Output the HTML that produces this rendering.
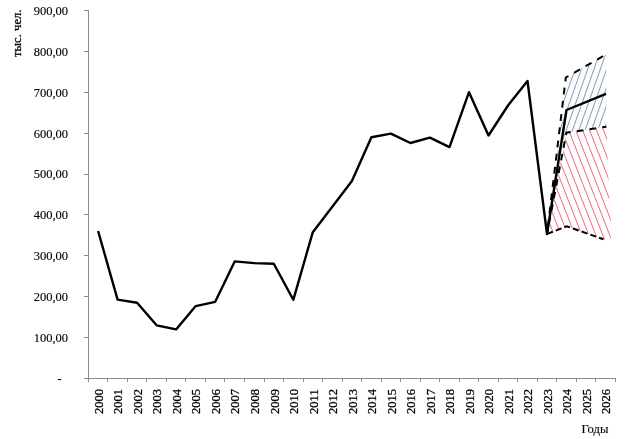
<!DOCTYPE html>
<html><head><meta charset="utf-8"><title>Chart</title>
<style>
html,body{margin:0;padding:0;background:#fff;}
body{width:625px;height:439px;overflow:hidden;position:relative;font-family:"Liberation Serif",serif;}
svg{position:absolute;left:0;top:0;display:block;}
svg text{font-family:"Liberation Serif",serif;font-size:12.5px;fill:#000;}
.rot{stroke:#000;stroke-width:0.28px;}
.yl{stroke:#000;stroke-width:0.12px;}
</style></head><body>
<svg width="625" height="439" viewBox="0 0 625 439">
<defs>
<clipPath id="cb"><polygon points="547.0,234.0 565.8,77.5 604.2,55.5 606.2,54.4 606.2,126.7 606.4,126.7 566.4,132.7 547.0,234.0"/></clipPath>
<clipPath id="cr"><polygon points="547.0,234.0 566.4,132.7 606.4,126.7 606.6,126.7 609.0,197.0 611.2,225.0 610.6,241.5 603.5,239.3 566.9,226.3 547.0,234.0"/></clipPath>
</defs>
<rect width="625" height="439" fill="#fff"/>
<polygon points="547.0,234.0 565.8,77.5 604.2,55.5 606.2,54.4 606.2,126.7 606.4,126.7 566.4,132.7 547.0,234.0" fill="#fbfcfe"/>
<polygon points="547.0,234.0 566.4,132.7 606.4,126.7 606.6,126.7 609.0,197.0 611.2,225.0 610.6,241.5 603.5,239.3 566.9,226.3 547.0,234.0" fill="#fffdfd"/>
<g clip-path="url(#cb)" stroke="#5c6b90" stroke-width="0.7" fill="none">
<line x1="522.12" y1="40" x2="448.18" y2="250"/>
<line x1="528.44" y1="40" x2="454.50" y2="250"/>
<line x1="534.76" y1="40" x2="460.82" y2="250"/>
<line x1="541.08" y1="40" x2="467.14" y2="250"/>
<line x1="547.40" y1="40" x2="473.46" y2="250"/>
<line x1="553.72" y1="40" x2="479.78" y2="250"/>
<line x1="560.04" y1="40" x2="486.10" y2="250"/>
<line x1="566.36" y1="40" x2="492.42" y2="250"/>
<line x1="572.68" y1="40" x2="498.74" y2="250"/>
<line x1="579.00" y1="40" x2="505.06" y2="250"/>
<line x1="585.32" y1="40" x2="511.38" y2="250"/>
<line x1="591.64" y1="40" x2="517.70" y2="250"/>
<line x1="597.96" y1="40" x2="524.02" y2="250"/>
<line x1="604.28" y1="40" x2="530.34" y2="250"/>
<line x1="610.60" y1="40" x2="536.66" y2="250"/>
<line x1="616.92" y1="40" x2="542.98" y2="250"/>
<line x1="623.24" y1="40" x2="549.30" y2="250"/>
<line x1="629.56" y1="40" x2="555.62" y2="250"/>
<line x1="635.88" y1="40" x2="561.94" y2="250"/>
<line x1="642.20" y1="40" x2="568.26" y2="250"/>
</g>
<g clip-path="url(#cr)" stroke="#e53f5b" stroke-width="0.78" fill="none">
<line x1="466.59" y1="100" x2="529.09" y2="260"/>
<line x1="473.54" y1="100" x2="536.04" y2="260"/>
<line x1="480.49" y1="100" x2="542.99" y2="260"/>
<line x1="487.44" y1="100" x2="549.94" y2="260"/>
<line x1="494.39" y1="100" x2="556.89" y2="260"/>
<line x1="501.34" y1="100" x2="563.84" y2="260"/>
<line x1="508.29" y1="100" x2="570.79" y2="260"/>
<line x1="515.24" y1="100" x2="577.74" y2="260"/>
<line x1="522.19" y1="100" x2="584.69" y2="260"/>
<line x1="529.14" y1="100" x2="591.64" y2="260"/>
<line x1="536.09" y1="100" x2="598.59" y2="260"/>
<line x1="543.04" y1="100" x2="605.54" y2="260"/>
<line x1="549.99" y1="100" x2="612.49" y2="260"/>
<line x1="556.94" y1="100" x2="619.44" y2="260"/>
<line x1="563.89" y1="100" x2="626.39" y2="260"/>
<line x1="570.84" y1="100" x2="633.34" y2="260"/>
<line x1="577.79" y1="100" x2="640.29" y2="260"/>
<line x1="584.74" y1="100" x2="647.24" y2="260"/>
<line x1="591.69" y1="100" x2="654.19" y2="260"/>
<line x1="598.64" y1="100" x2="661.14" y2="260"/>
</g>
<g fill="#8c8c8c" shape-rendering="crispEdges">
<rect x="88" y="10" width="1" height="372"/>
<rect x="84" y="378" width="532" height="1"/>
<rect x="84" y="337" width="4" height="1"/>
<rect x="84" y="296" width="4" height="1"/>
<rect x="84" y="255" width="4" height="1"/>
<rect x="84" y="214" width="4" height="1"/>
<rect x="84" y="174" width="4" height="1"/>
<rect x="84" y="133" width="4" height="1"/>
<rect x="84" y="92" width="4" height="1"/>
<rect x="84" y="51" width="4" height="1"/>
<rect x="84" y="10" width="4" height="1"/>
<rect x="107" y="378" width="1" height="4"/>
<rect x="127" y="378" width="1" height="4"/>
<rect x="146" y="378" width="1" height="4"/>
<rect x="166" y="378" width="1" height="4"/>
<rect x="185" y="378" width="1" height="4"/>
<rect x="205" y="378" width="1" height="4"/>
<rect x="224" y="378" width="1" height="4"/>
<rect x="244" y="378" width="1" height="4"/>
<rect x="264" y="378" width="1" height="4"/>
<rect x="283" y="378" width="1" height="4"/>
<rect x="303" y="378" width="1" height="4"/>
<rect x="322" y="378" width="1" height="4"/>
<rect x="342" y="378" width="1" height="4"/>
<rect x="361" y="378" width="1" height="4"/>
<rect x="381" y="378" width="1" height="4"/>
<rect x="400" y="378" width="1" height="4"/>
<rect x="420" y="378" width="1" height="4"/>
<rect x="439" y="378" width="1" height="4"/>
<rect x="459" y="378" width="1" height="4"/>
<rect x="478" y="378" width="1" height="4"/>
<rect x="498" y="378" width="1" height="4"/>
<rect x="517" y="378" width="1" height="4"/>
<rect x="537" y="378" width="1" height="4"/>
<rect x="556" y="378" width="1" height="4"/>
<rect x="576" y="378" width="1" height="4"/>
<rect x="595" y="378" width="1" height="4"/>
<rect x="615" y="378" width="1" height="4"/>
</g>
<text class="yl" x="68.1" y="342" text-anchor="end">100,00</text>
<text class="yl" x="68.1" y="301" text-anchor="end">200,00</text>
<text class="yl" x="68.1" y="260" text-anchor="end">300,00</text>
<text class="yl" x="68.1" y="219" text-anchor="end">400,00</text>
<text class="yl" x="68.1" y="178" text-anchor="end">500,00</text>
<text class="yl" x="68.1" y="138" text-anchor="end">600,00</text>
<text class="yl" x="68.1" y="97" text-anchor="end">700,00</text>
<text class="yl" x="68.1" y="56" text-anchor="end">800,00</text>
<text class="yl" x="68.1" y="15" text-anchor="end">900,00</text>
<text x="61.6" y="383" text-anchor="end" style="font-weight:bold;font-size:13px">-</text>
<text class="rot" transform="translate(102.8,413.9) rotate(-90)">2000</text>
<text class="rot" transform="translate(122.3,413.9) rotate(-90)">2001</text>
<text class="rot" transform="translate(141.8,413.9) rotate(-90)">2002</text>
<text class="rot" transform="translate(161.3,413.9) rotate(-90)">2003</text>
<text class="rot" transform="translate(180.8,413.9) rotate(-90)">2004</text>
<text class="rot" transform="translate(200.4,413.9) rotate(-90)">2005</text>
<text class="rot" transform="translate(219.9,413.9) rotate(-90)">2006</text>
<text class="rot" transform="translate(239.4,413.9) rotate(-90)">2007</text>
<text class="rot" transform="translate(258.9,413.9) rotate(-90)">2008</text>
<text class="rot" transform="translate(278.5,413.9) rotate(-90)">2009</text>
<text class="rot" transform="translate(298.0,413.9) rotate(-90)">2010</text>
<text class="rot" transform="translate(317.5,413.9) rotate(-90)">2011</text>
<text class="rot" transform="translate(337.0,413.9) rotate(-90)">2012</text>
<text class="rot" transform="translate(356.6,413.9) rotate(-90)">2013</text>
<text class="rot" transform="translate(376.1,413.9) rotate(-90)">2014</text>
<text class="rot" transform="translate(395.6,413.9) rotate(-90)">2015</text>
<text class="rot" transform="translate(415.1,413.9) rotate(-90)">2016</text>
<text class="rot" transform="translate(434.6,413.9) rotate(-90)">2017</text>
<text class="rot" transform="translate(454.2,413.9) rotate(-90)">2018</text>
<text class="rot" transform="translate(473.7,413.9) rotate(-90)">2019</text>
<text class="rot" transform="translate(493.2,413.9) rotate(-90)">2020</text>
<text class="rot" transform="translate(512.7,413.9) rotate(-90)">2021</text>
<text class="rot" transform="translate(532.2,413.9) rotate(-90)">2022</text>
<text class="rot" transform="translate(551.8,413.9) rotate(-90)">2023</text>
<text class="rot" transform="translate(571.3,413.9) rotate(-90)">2024</text>
<text class="rot" transform="translate(590.8,413.9) rotate(-90)">2025</text>
<text class="rot" transform="translate(610.3,413.9) rotate(-90)">2026</text>
<text class="rot" transform="translate(20.8,57) rotate(-90)" style="font-size:12.7px">тыс. чел.</text>
<text class="yl" x="581.4" y="433.2" style="font-size:12.6px">Годы</text>
<polyline points="98.1,231.0 117.6,299.6 137.1,302.7 156.6,325.3 176.1,329.4 195.7,306.1 215.2,301.8 234.7,261.4 254.2,263.1 273.8,263.7 293.3,299.8 312.8,232.2 332.3,206.7 351.9,181.0 371.4,137.3 390.9,133.6 410.4,143.0 429.9,137.7 449.5,147.1 469.0,92.2 488.5,135.5 508.0,105.5 527.5,81.0 547.0,234.0 566.5,110.0 606.0,93.8" fill="none" stroke="#000" stroke-width="2.4" stroke-linejoin="round" stroke-linecap="butt"/>
<polyline points="547.0,234.0 565.8,77.5 604.2,55.5" fill="none" stroke="#000" stroke-width="2.0" stroke-dasharray="6.8,6.50" stroke-dashoffset="-7.53" stroke-linejoin="miter"/>
<polyline points="547.0,234.0 566.4,132.7 606.4,126.7" fill="none" stroke="#000" stroke-width="2.0" stroke-dasharray="6.7,6.20" stroke-dashoffset="-10.44" stroke-linejoin="miter"/>
<polyline points="547.0,234.0 566.9,226.3 603.5,239.3" fill="none" stroke="#000" stroke-width="2.0" stroke-dasharray="6.1,3.10" stroke-dashoffset="-0.18" stroke-linejoin="miter"/>
</svg>
</body></html>
